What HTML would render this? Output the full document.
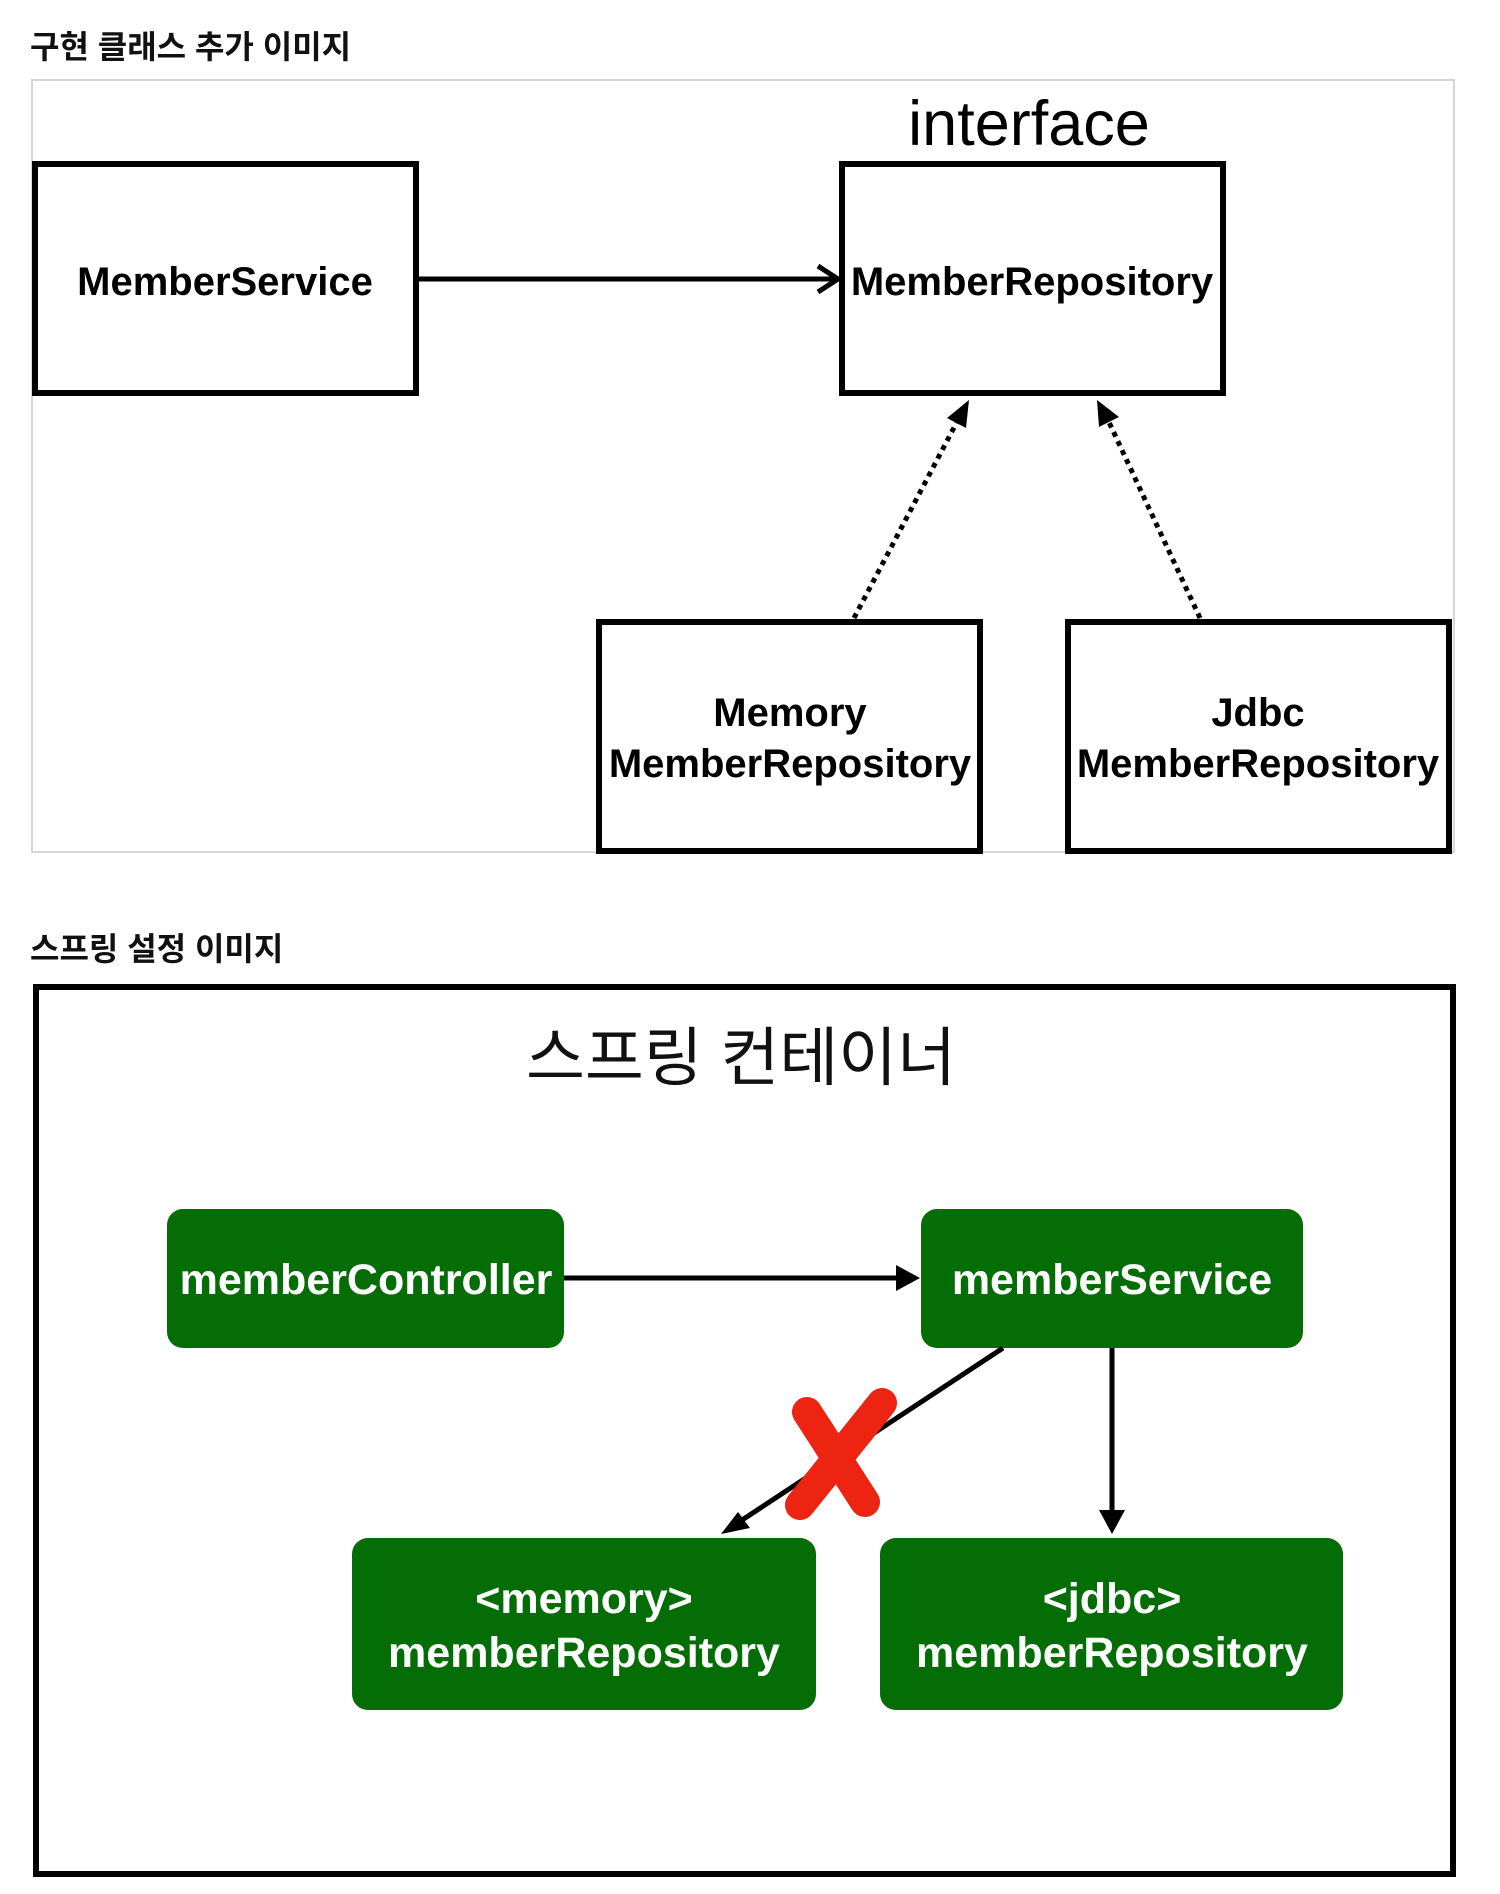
<!DOCTYPE html>
<html><head><meta charset="utf-8"><style>
html,body{margin:0;padding:0;background:#fff;}
svg{display:block}
text{font-family:"Liberation Sans","Noto Sans CJK KR",sans-serif;}
</style></head><body>
<svg width="1500" height="1894" viewBox="0 0 1500 1894" xmlns="http://www.w3.org/2000/svg">
<text x="30" y="58" font-size="32" font-weight="bold" fill="#111">구현 클래스 추가 이미지</text>
<rect x="32" y="80" width="1422" height="772" fill="none" stroke="#d6d6d6" stroke-width="2"/>
<g fill="#fff" stroke="#000" stroke-width="6">
<rect x="35" y="164" width="381" height="229"/>
<rect x="842" y="164" width="381" height="229"/>
<rect x="599" y="622" width="381" height="229"/>
<rect x="1068" y="622" width="381" height="229"/>
</g>
<text x="1029" y="145" font-size="63" text-anchor="middle" fill="#000">interface</text>
<g font-size="40" text-anchor="middle" fill="#000" font-weight="bold">
<text x="225" y="295">MemberService</text>
<text x="1032" y="295">MemberRepository</text>
<text x="790" y="726">Memory</text>
<text x="790" y="777">MemberRepository</text>
<text x="1258" y="726">Jdbc</text>
<text x="1258" y="777">MemberRepository</text>
</g>
<line x1="419" y1="279" x2="836" y2="279" stroke="#000" stroke-width="5"/>
<polyline points="818,266 838,279 818,292" fill="none" stroke="#000" stroke-width="5"/>
<line x1="854" y1="618" x2="958" y2="420" stroke="#000" stroke-width="5" stroke-dasharray="5,5"/>
<polygon points="969,400 966,428 947,418" fill="#000"/>
<line x1="1200" y1="618" x2="1108" y2="420" stroke="#000" stroke-width="5" stroke-dasharray="5,5"/>
<polygon points="1097,400 1119,417 1099,427" fill="#000"/>

<text x="30" y="960" font-size="32" font-weight="bold" fill="#111">스프링 설정 이미지</text>
<rect x="36" y="987" width="1417" height="887" fill="none" stroke="#000" stroke-width="6"/>
<text x="741" y="1080" font-size="64" text-anchor="middle" fill="#111">스프링 컨테이너</text>
<g fill="#056d05">
<rect x="167" y="1209" width="397" height="139" rx="16"/>
<rect x="921" y="1209" width="382" height="139" rx="16"/>
<rect x="352" y="1538" width="464" height="172" rx="16"/>
<rect x="880" y="1538" width="463" height="172" rx="16"/>
</g>
<g font-size="43" font-weight="bold" text-anchor="middle" fill="#fff">
<text x="366" y="1294">memberController</text>
<text x="1112" y="1294">memberService</text>
<text x="584" y="1613">&lt;memory&gt;</text>
<text x="584" y="1667">memberRepository</text>
<text x="1112" y="1613">&lt;jdbc&gt;</text>
<text x="1112" y="1667">memberRepository</text>
</g>
<line x1="564" y1="1278" x2="910" y2="1278" stroke="#000" stroke-width="5"/>
<polygon points="920,1278 896,1265 896,1291" fill="#000"/>
<line x1="1112" y1="1348" x2="1112" y2="1520" stroke="#000" stroke-width="5"/>
<polygon points="1112,1534 1099,1510 1125,1510" fill="#000"/>
<line x1="1003" y1="1348" x2="733" y2="1526" stroke="#000" stroke-width="5"/>
<polygon points="721,1534 738,1512 750,1528" fill="#000"/>
<g stroke="#ec2411" stroke-width="30" stroke-linecap="round">
<line x1="807" y1="1412" x2="865" y2="1502"/>
<line x1="882" y1="1403" x2="800" y2="1505"/>
</g>
</svg>
</body></html>
